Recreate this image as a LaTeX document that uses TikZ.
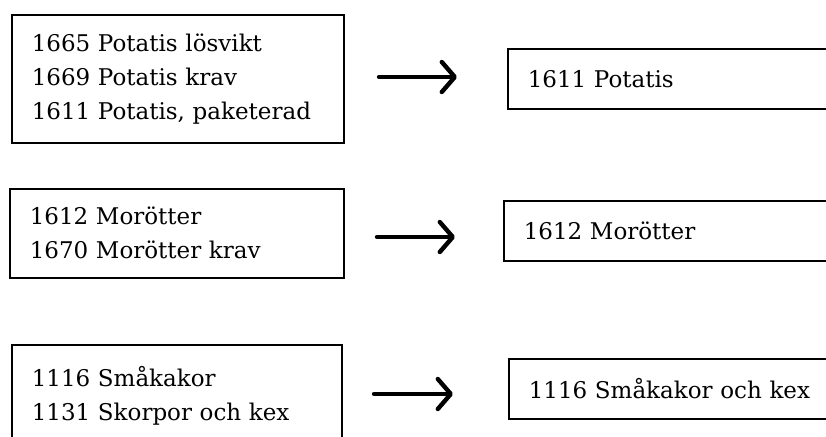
\documentclass[tikz,border=0pt]{standalone}
\usepackage{fontspec}
\setmainfont{DejaVu Serif}
\usetikzlibrary{arrows.meta}

\begin{document}
\begin{tikzpicture}[x=1pt, y=-1pt,
  codebox/.style={draw, line width=1.6pt, anchor=north west, align=left, inner xsep=20pt, inner ysep=0pt, font=\fontsize{23}{34}\selectfont},
  mapsto/.style={line width=4.4pt, line cap=round, -{Straight Barb[length=13pt, width=30pt, round]}}]
\useasboundingbox (0,0) rectangle (826,436);
\clip (0,0) rectangle (826,436);
% old article groups (left)
\node[codebox, text width=292pt, minimum height=128pt] (old1) at (11,14) {1665 Potatis lösvikt\\1669 Potatis krav\\1611 Potatis, paketerad};
\node[codebox, text width=294pt, minimum height=89pt] (old2) at (9,188) {1612 Morötter\\1670 Morötter krav};
\node[codebox, text width=290pt, minimum height=101pt] (old3) at (11,344) {1116 Småkakor\\1131 Skorpor och kex};
% new articles (right, cut off at the edge)
\node[codebox, text width=400pt, minimum height=60pt] (new1) at (507,48) {1611 Potatis};
\node[codebox, text width=400pt, minimum height=60pt] (new2) at (503,200) {1612 Morötter};
\node[codebox, text width=400pt, minimum height=60pt] (new3) at (508,358) {1116 Småkakor och kex};
% arrows
\coordinate (a1) at (379,77);
\coordinate (b1) at (457,77);
\coordinate (a2) at (377,237);
\coordinate (b2) at (455,237);
\coordinate (a3) at (374,394);
\coordinate (b3) at (453,394);
\draw[mapsto] (a1) -- (b1);
\draw[mapsto] (a2) -- (b2);
\draw[mapsto] (a3) -- (b3);
\end{tikzpicture}
\end{document}
